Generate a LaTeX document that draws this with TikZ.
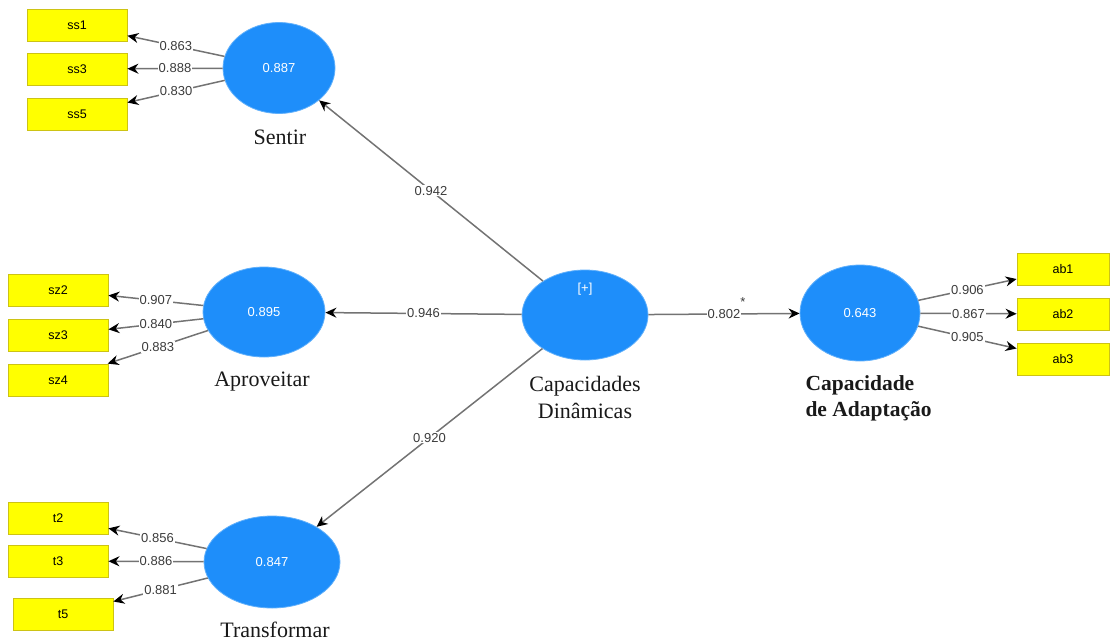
\documentclass[tikz,border=0pt]{standalone}
\usepackage{fontspec}
\setmainfont{Liberation Serif}
\newfontfamily\lsans{Liberation Sans}
\usetikzlibrary{shapes.geometric,arrows.meta}
\definecolor{lvblue}{RGB}{30,142,250}
\definecolor{boxyel}{RGB}{255,255,0}
\definecolor{boxedge}{RGB}{205,195,20}
\definecolor{pathgray}{RGB}{115,115,115}
\definecolor{lbltxt}{RGB}{60,60,60}
\begin{document}
\begin{tikzpicture}[x=1pt,y=-1pt,
 lv/.style={ellipse, fill=lvblue, draw=lvblue!70!white, line width=0.8pt, inner sep=0pt, text=white, font=\lsans\fontsize{13}{15}\selectfont},
 ind/.style={draw=boxedge, fill=boxyel, line width=0.8pt, minimum width=100pt, minimum height=32pt, inner sep=0pt, font=\lsans\fontsize{12.5}{14}\selectfont},
 conn/.style={draw=pathgray, line width=1.5pt, -{Stealth[length=11pt,width=10pt,color=black]}},
 wlbl/.style={fill=white, inner sep=1pt, text=lbltxt, font=\lsans\fontsize{13}{15}\selectfont},
 cname/.style={font=\fontsize{22}{27}\selectfont, text=black!90},
 cnamebold/.style={font=\bfseries\fontsize{21.5}{26}\selectfont, text=black!90, align=left}
]
\useasboundingbox (0,0) rectangle (1110,642);

% latent variables
\node[lv, minimum width=112pt, minimum height=91pt] (sentir) at (279,68) {0.887};
\node[lv, minimum width=122pt, minimum height=90pt] (aprov) at (264,312) {0.895};
\node[lv, minimum width=136pt, minimum height=92pt] (transf) at (272,562) {0.847};
\node[lv, minimum width=126pt, minimum height=90pt] (cd) at (585,315) {};
\node[text=white, font=\lsans\fontsize{13}{15}\selectfont] (cdtext) at (585,289) {[+]};
\node[lv, minimum width=120pt, minimum height=96pt] (cap) at (860,313) {0.643};

% names
\node[cname] (nsentir) at (280,137) {Sentir};
\node[cname] (naprov) at (262,382) {Aproveitar};
\node[cname] (ntransf) at (275,630) {Transformar};
\node[cname, align=center] (ncd) at (585,397) {Capacidades\\Dinâmicas};
\node[cnamebold, anchor=west] (ncap) at (802,398) {Capacidade\\de Adaptação};

% indicators
\node[ind] (ss1) at (77,25) {ss1};
\node[ind] (ss3) at (77,69) {ss3};
\node[ind] (ss5) at (77,114) {ss5};
\node[ind] (sz2) at (58,290) {sz2};
\node[ind] (sz3) at (58,335) {sz3};
\node[ind] (sz4) at (58,380) {sz4};
\node[ind] (t2) at (58,518) {t2};
\node[ind] (t3) at (58,561) {t3};
\node[ind] (t5) at (63,614) {t5};
\node[ind, minimum width=92pt] (ab1) at (1063,269) {ab1};
\node[ind, minimum width=92pt] (ab2) at (1063,314) {ab2};
\node[ind, minimum width=92pt] (ab3) at (1063,359) {ab3};

% outer loadings
\draw[conn] (sentir) -- node[wlbl] {0.863} (ss1);
\draw[conn] (sentir) -- node[wlbl] {0.888} (ss3);
\draw[conn] (sentir) -- node[wlbl] {0.830} (ss5);
\draw[conn] (aprov) -- node[wlbl] {0.907} (sz2);
\draw[conn] (aprov) -- node[wlbl] {0.840} (sz3);
\draw[conn] (aprov) -- node[wlbl] {0.883} (sz4);
\draw[conn] (transf) -- node[wlbl] {0.856} (t2);
\draw[conn] (transf) -- node[wlbl] {0.886} (t3);
\draw[conn] (transf) -- node[wlbl] {0.881} (t5);
\draw[conn] (cap) -- node[wlbl] {0.906} (ab1);
\draw[conn] (cap) -- node[wlbl] {0.867} (ab2);
\draw[conn] (cap) -- node[wlbl] {0.905} (ab3);

% structural paths
\draw[conn] (cd) -- node[wlbl] {0.942} (sentir);
\draw[conn] (cd) -- node[wlbl] {0.946} (aprov);
\draw[conn] (cd) -- node[wlbl] {0.920} (transf);
\draw[conn] (cd) -- node[wlbl] (l802) {0.802} (cap);
\node[text=lbltxt, font=\lsans\fontsize{13}{15}\selectfont] (star) at (743,302) {*};
\end{tikzpicture}
\end{document}
